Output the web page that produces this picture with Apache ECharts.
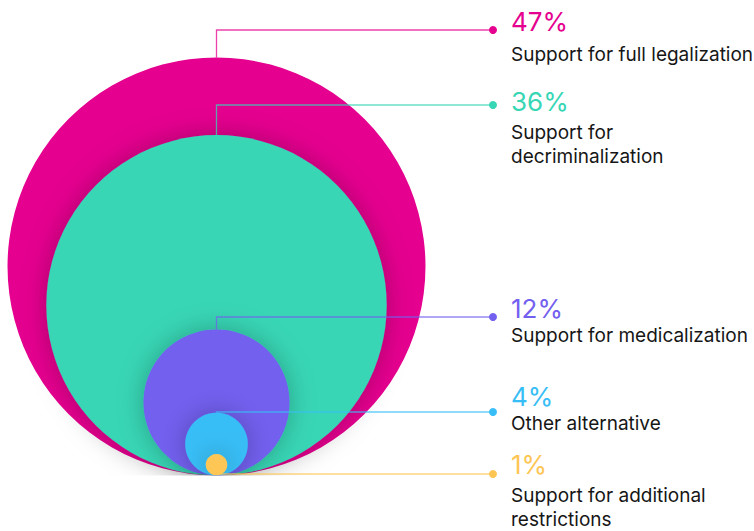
<!DOCTYPE html>
<html>
<head>
<meta charset="utf-8">
<script src="https://cdn.jsdelivr.net/npm/echarts@6/dist/echarts.min.js"></script>
<style>
html,body{margin:0;padding:0;background:#fff;}
#chart{width:754px;height:531px;}
</style>
</head>
<body>
<div id="chart"></div>
<script>
// ---- data ----
const percentLabels = ['47%', '36%', '12%', '4%', '1%'];
const categories = [
  'Support for full legalization',
  'Support for\ndecriminalization',
  'Support for medicalization',
  'Other alternative',
  'Support for additional\nrestrictions'
];
const values = [47, 36, 12, 4, 1];

// ---- style / layout ----
const colors = ['#E5008F', '#37D6B5', '#7360EF', '#38BEF6', '#FDC654'];
const dotX = 493;
const textX = 511;
const dotY = [30, 105, 317, 412, 474];
const pctBaseline = [31, 111, 318, 406, 474];
const descBaseline = [61, 139, 342, 430, 502];
// visual size scale (diameter in axis units = px) : power scale
function sizeScale(v) { return 21.56 * Math.pow(v, 0.77); }

const chart = echarts.init(document.getElementById('chart'), null, {renderer: 'svg'});
const seriesData = values.map(v => [0, v]);

const option = {
  animation: false,
  grid: {left: 0, top: 0, width: 433, bottom: 55.5, containLabel: false},
  xAxis: {type: 'value', min: -1, max: 1, show: false},
  yAxis: {type: 'value', min: 0, max: 475.5, show: false},
  series: [
    {
      type: 'custom',
      z: 1,
      clip: true,
      data: seriesData,
      renderItem: function (params, api) {
        const i = params.dataIndex;
        const d = sizeScale(api.value(1));
        const c = api.coord([0, d / 2]);
        const r = api.size([0, d / 2])[1];
        return {
          type: 'circle',
          shape: {cx: c[0], cy: c[1], r: r},
          style: {
            fill: colors[i],
            shadowBlur: i === 0 ? 0 : 26,
            shadowColor: 'rgba(0,0,0,0.26)'
          }
        };
      }
    },
    {
      type: 'custom',
      z: 2,
      data: seriesData,
      renderItem: function (params, api) {
        const i = params.dataIndex;
        const d = sizeScale(api.value(1));
        const top = api.coord([0, d]);
        const ly = dotY[i];
        let pts;
        if (ly < top[1]) pts = [[top[0], top[1]], [top[0], ly], [dotX, ly]];
        else pts = [[top[0], ly], [dotX, ly]];
        return {
          type: 'group',
          children: [
            {type: 'polyline', shape: {points: pts},
              style: {stroke: colors[i], lineWidth: 1.3, fill: null, opacity: 0.75}},
            {type: 'circle', shape: {cx: dotX, cy: ly, r: 4}, style: {fill: colors[i]}},
            {type: 'text', style: {
              text: percentLabels[i], x: textX, y: pctBaseline[i] - 9.5,
              fill: colors[i], font: '400 26px Inter', verticalAlign: 'middle', align: 'left'}},
            {type: 'text', style: {
              text: categories[i], x: textX, y: descBaseline[i] - 19,
              fill: '#161616', font: '400 19px Inter', lineHeight: 24, verticalAlign: 'top', align: 'left'}}
          ]
        };
      }
    }
  ]
};
chart.setOption(option);
</script>
</body>
</html>
